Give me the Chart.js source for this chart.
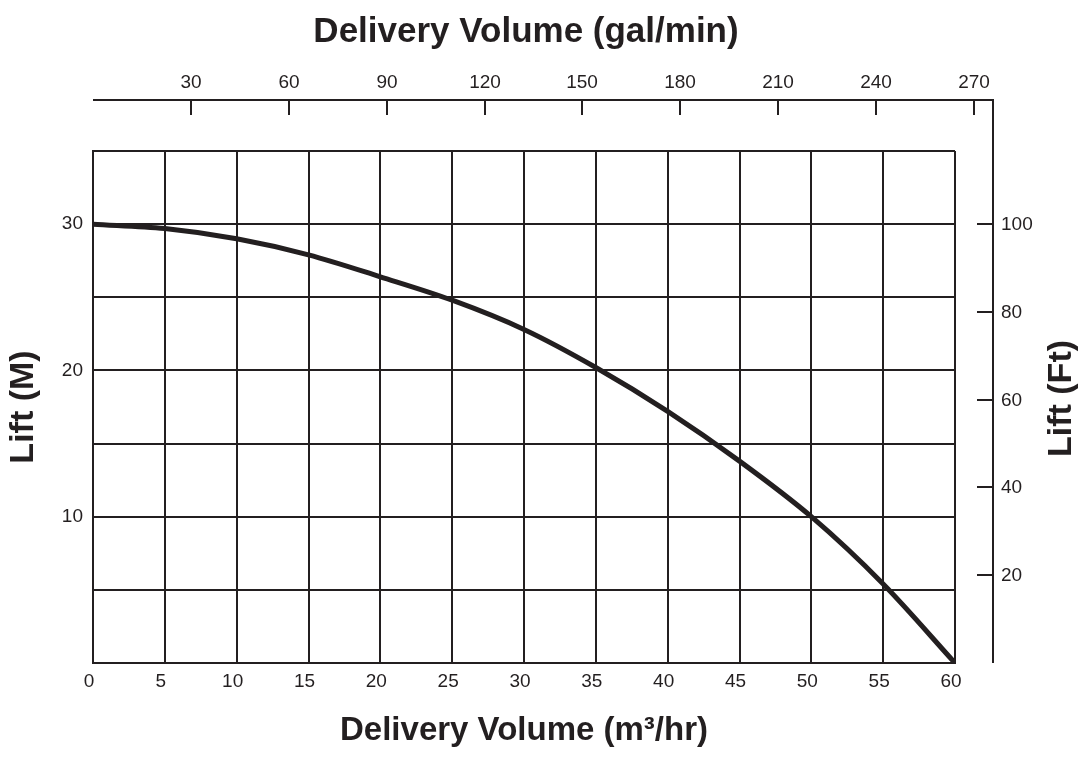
<!DOCTYPE html>
<html>
<head>
<meta charset="utf-8">
<script src="https://cdn.jsdelivr.net/npm/chart.js@4.4.1/dist/chart.umd.min.js"></script>
<style>
  html, body { margin: 0; padding: 0; background: #ffffff; }
  canvas { display: block; }
</style>
</head>
<body>
<canvas id="chart" width="1082" height="760"></canvas>
<script>
// ---- data ----
const FLOW_M3H = [0, 5, 10, 15, 20, 25, 30, 35, 40, 45, 50, 55, 60];
const LIFT_M   = [30, 29.7, 29.0, 27.9, 26.4, 24.8, 22.8, 20.2, 17.2, 13.8, 10.0, 5.4, 0];
const LIFT_LABELED_M = [10, 20, 30];
const GAL_TICKS = [30, 60, 90, 120, 150, 180, 210, 240, 270];
const FT_TICKS  = [20, 40, 60, 80, 100];
const GAL_PER_M3H = 4.403;   // gal/min per m3/hr
const M_PER_FT = 0.3;        // scale used by the chart's ft axis

const TITLE_TOP = 'Delivery Volume (gal/min)';
const TITLE_BOTTOM = 'Delivery Volume (m\u00B3/hr)';
const TITLE_LEFT = 'Lift (M)';
const TITLE_RIGHT = 'Lift (Ft)';

// ---- styles ----
const INK = '#231f20';
const FAMILY = '"Liberation Sans", Arial, Helvetica, sans-serif';
const TICK_SIZE = 19;

Chart.defaults.font.family = FAMILY;
Chart.defaults.color = INK;

const secondaryAxes = {
  id: 'secondaryAxes',
  afterDraw(chart) {
    const { ctx, chartArea } = chart;
    const gal = chart.scales.gal;
    const ft = chart.scales.ft;
    const topY = chartArea.top - 51;
    const rightX = chartArea.right + 38;
    ctx.save();
    ctx.strokeStyle = INK;
    ctx.fillStyle = INK;
    ctx.lineWidth = 2;
    ctx.lineJoin = 'miter';
    ctx.lineCap = 'butt';
    // axis lines
    ctx.beginPath();
    ctx.moveTo(chartArea.left, topY);
    ctx.lineTo(rightX, topY);
    ctx.lineTo(rightX, chartArea.bottom);
    ctx.stroke();
    // top (gal/min) ticks + labels
    ctx.font = TICK_SIZE + 'px ' + FAMILY;
    ctx.textAlign = 'center';
    ctx.textBaseline = 'alphabetic';
    GAL_TICKS.forEach(v => {
      const px = Math.round(gal.getPixelForValue(v));
      ctx.beginPath();
      ctx.moveTo(px, topY);
      ctx.lineTo(px, topY + 15);
      ctx.stroke();
      ctx.fillText(String(v), px, topY - 12);
    });
    // right (ft) ticks + labels
    ctx.textAlign = 'left';
    ctx.textBaseline = 'middle';
    FT_TICKS.forEach(v => {
      const py = Math.round(ft.getPixelForValue(v));
      ctx.beginPath();
      ctx.moveTo(rightX - 16, py);
      ctx.lineTo(rightX, py);
      ctx.stroke();
      ctx.fillText(String(v), rightX + 8, py + 1);
    });
    // right title
    ctx.font = 'bold 34px ' + FAMILY;
    ctx.textAlign = 'center';
    ctx.textBaseline = 'middle';
    ctx.translate(rightX + 69, (topY + chartArea.bottom) / 2 + 17);
    ctx.rotate(-Math.PI / 2);
    ctx.fillText(TITLE_RIGHT, 0, 0);
    ctx.restore();
  }
};

new Chart(document.getElementById('chart'), {
  type: 'line',
  data: {
    datasets: [{
      label: 'Lift',
      data: FLOW_M3H.map((q, i) => ({ x: q, y: LIFT_M[i] })),
      borderColor: INK,
      borderWidth: 5,
      pointRadius: 0,
      fill: false,
      cubicInterpolationMode: 'monotone'
    }]
  },
  options: {
    responsive: false,
    animation: false,
    layout: { padding: { left: 0, right: 30, top: 0, bottom: 0 } },
    plugins: {
      legend: { display: false },
      tooltip: { enabled: false },
      title: {
        display: true,
        text: TITLE_TOP,
        color: INK,
        font: { size: 35, weight: 'bold', family: FAMILY },
        padding: { top: 11, bottom: 98 }
      }
    },
    scales: {
      x: {
        type: 'linear',
        position: 'bottom',
        min: 0, max: 60,
        ticks: { stepSize: 5, padding: 7, labelOffset: -4, font: { size: TICK_SIZE }, color: INK, maxRotation: 0 },
        grid: { color: INK, lineWidth: 2, drawTicks: false },
        border: { display: true, color: INK, width: 2 },
        title: {
          display: true, text: TITLE_BOTTOM, color: INK,
          font: { size: 33, weight: 'bold', family: FAMILY },
          padding: { top: 0, bottom: 9 }
        },
        afterFit(s) { s.height = 97; }
      },
      y: {
        type: 'linear',
        position: 'left',
        min: 0, max: 35,
        ticks: {
          stepSize: 5, padding: 10, font: { size: TICK_SIZE }, color: INK,
          callback: v => (LIFT_LABELED_M.includes(v) ? String(v) : '')
        },
        grid: { color: INK, lineWidth: 2, drawTicks: false },
        border: { display: true, color: INK, width: 2 },
        title: {
          display: true, text: TITLE_LEFT, color: INK,
          font: { size: 34, weight: 'bold', family: FAMILY },
          padding: { top: 3, bottom: 0 }
        },
        afterFit(s) { s.width = 93; }
      },
      gal: {
        type: 'linear',
        axis: 'x',
        position: 'top',
        display: false,
        min: 0, max: 60 * GAL_PER_M3H
      },
      ft: {
        type: 'linear',
        axis: 'y',
        position: 'right',
        min: 0, max: 35 / M_PER_FT,
        ticks: { display: false },
        grid: { display: false, drawTicks: false },
        border: { display: false },
        afterFit(s) { s.width = 97; }
      }
    }
  },
  plugins: [secondaryAxes]
});
</script>
</body>
</html>
